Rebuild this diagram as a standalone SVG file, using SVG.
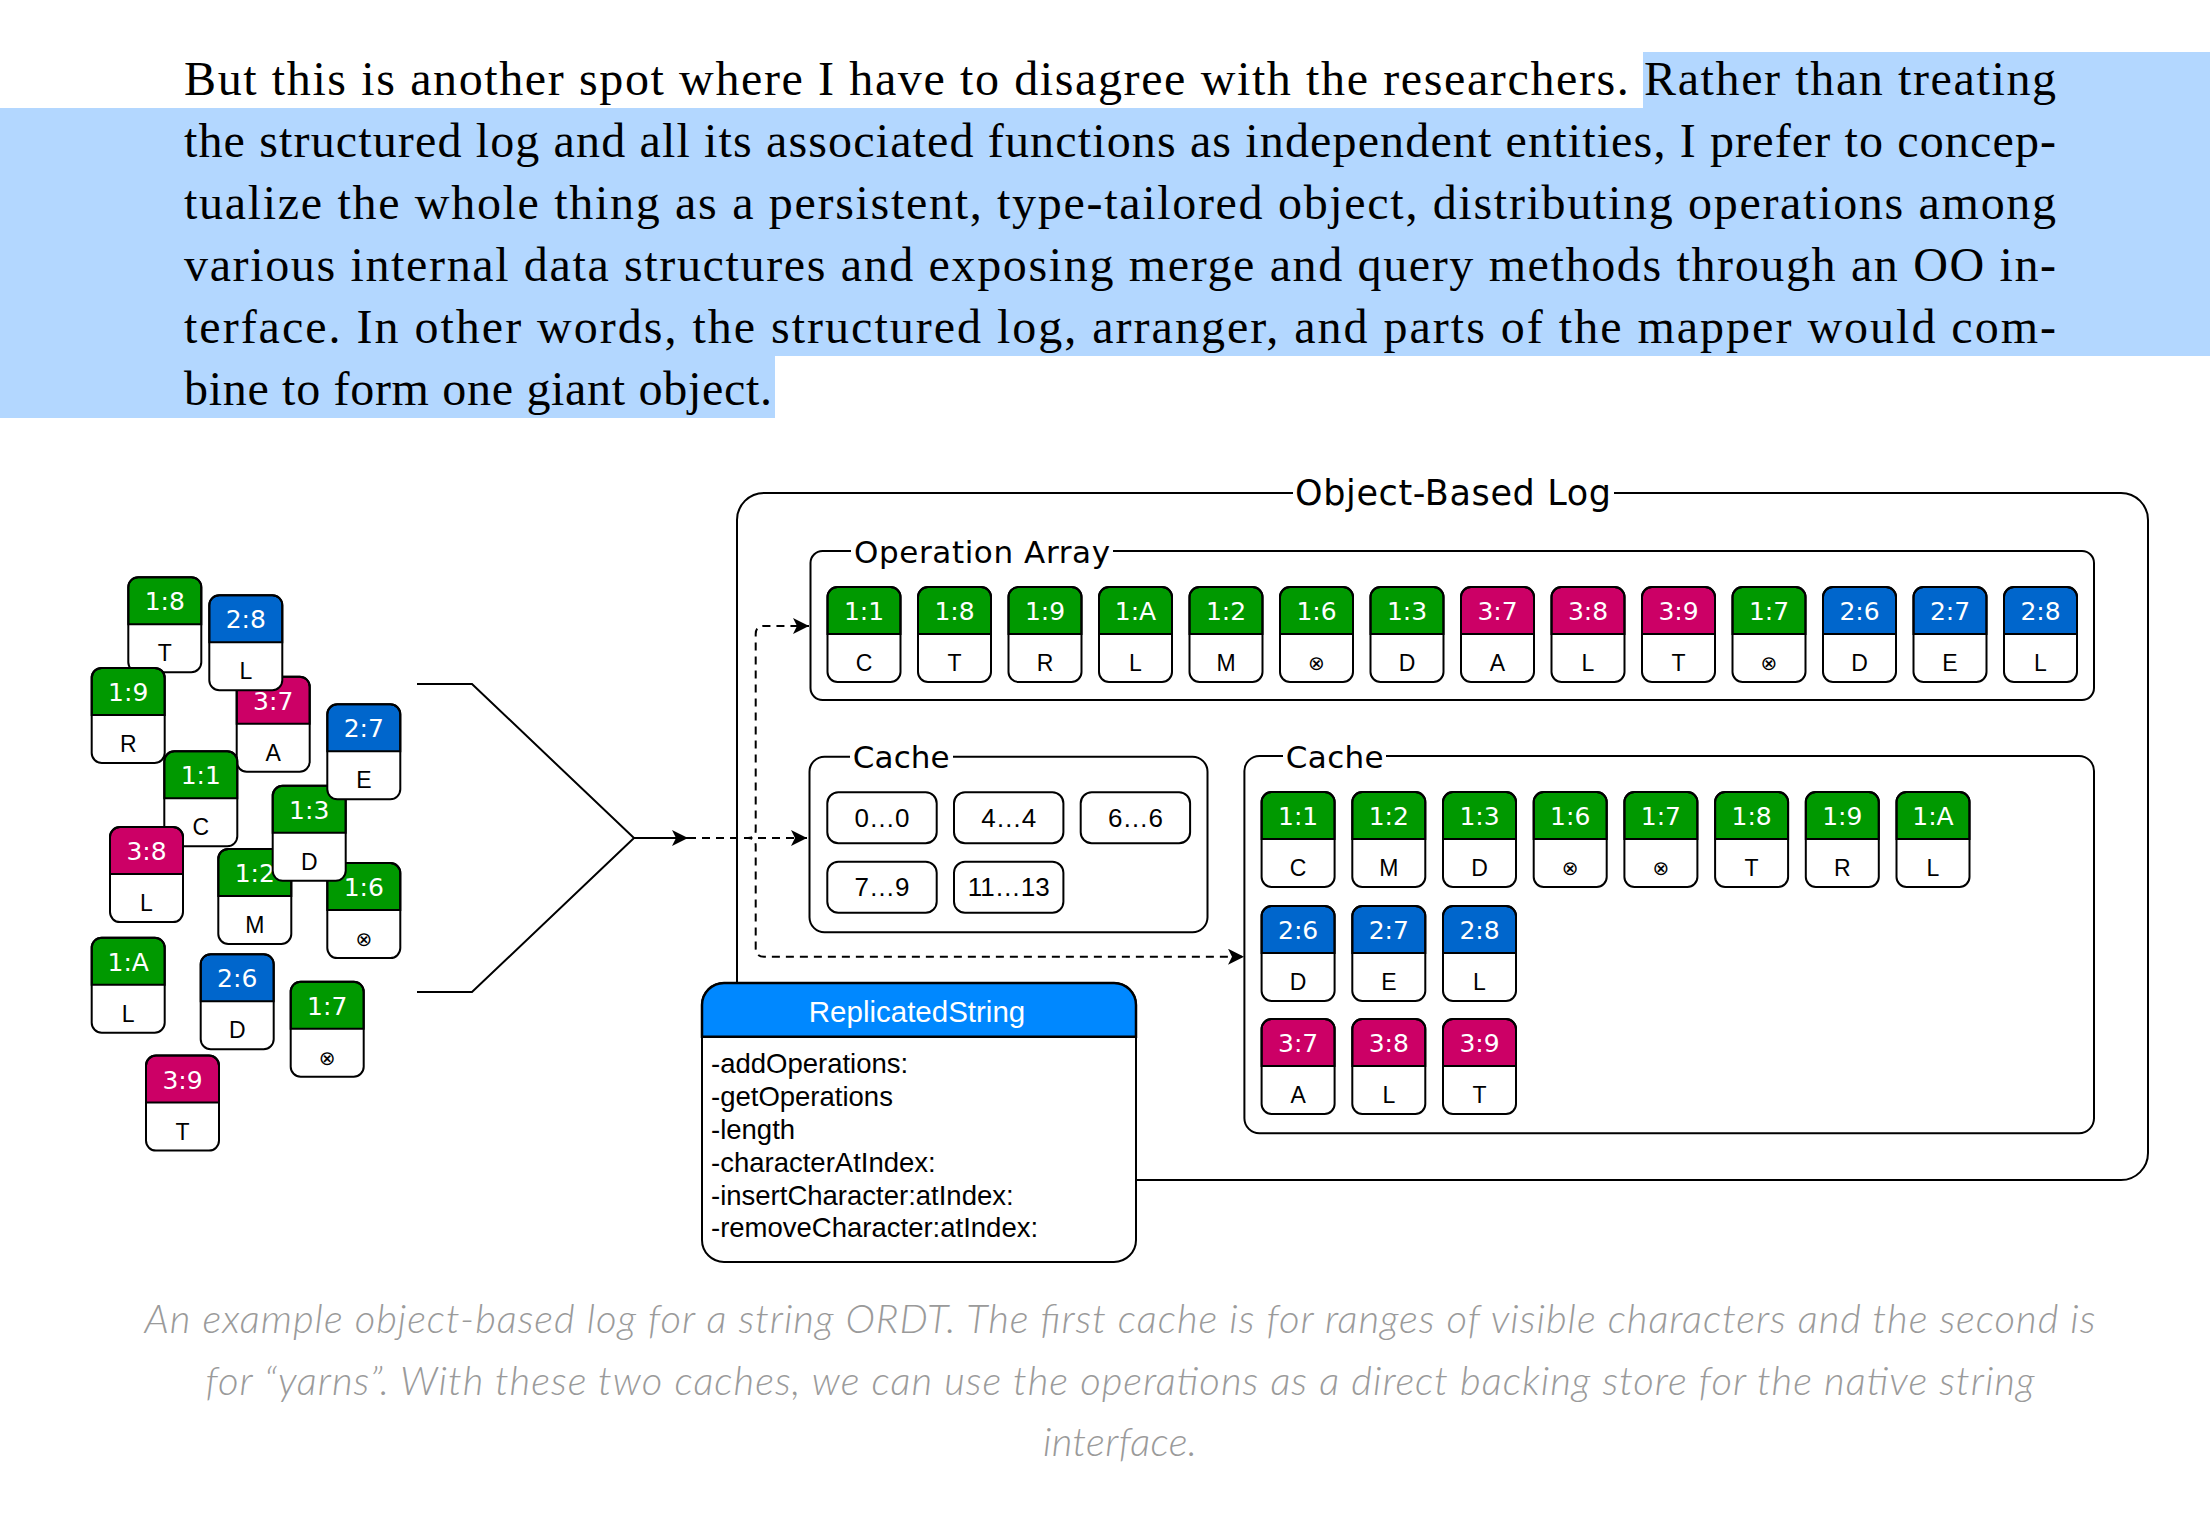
<svg xmlns="http://www.w3.org/2000/svg" xmlns:xlink="http://www.w3.org/1999/xlink" width="2210" height="1524" viewBox="0 0 2210 1524">
<style>
.ln{fill:none;stroke:#000;stroke-width:2}
.dash{fill:none;stroke:#000;stroke-width:2;stroke-dasharray:8 6}
.grp{fill:#fff;stroke:#000;stroke-width:2}
.ol{fill:none;stroke:#000;stroke-width:2}
.wh{fill:#fff}
.g{fill:#009900;stroke:#000;stroke-width:2}
.b{fill:#0066CC;stroke:#000;stroke-width:2}
.m{fill:#CC0066;stroke:#000;stroke-width:2}
.hd{font-family:"DejaVu Sans",sans-serif;font-size:25px;fill:#fff;text-anchor:middle}
.bd{font-family:"Liberation Sans",Arial,sans-serif;font-size:23px;fill:#000;text-anchor:middle}
.x{font-family:"DejaVu Sans",sans-serif;font-size:20px;fill:#000;text-anchor:middle}
.ttl{font-family:"DejaVu Sans",sans-serif;fill:#000}
.rng{font-family:"Liberation Sans",Arial,sans-serif;font-size:26px;fill:#000;text-anchor:middle}
.para{font-family:"Liberation Serif","Times New Roman",serif;font-size:48px;fill:#000}
.cap{font-family:Lato,"Open Sans",sans-serif;font-style:italic;font-weight:300;font-size:40px;fill:#9a9a9a;text-anchor:middle}
.meth{font-family:"Liberation Sans",Arial,sans-serif;font-size:27.5px;fill:#000}
</style>
<defs>
<rect id="tL" width="73" height="95" rx="10"/>
<path id="hL" d="M0,47 V10 A10,10 0 0 1 10,0 H63 A10,10 0 0 1 73,10 V47 Z"/>
<marker id="arr" markerUnits="userSpaceOnUse" markerWidth="16" markerHeight="16" refX="16" refY="8" orient="auto" viewBox="0 0 16 16">
<path d="M0,0 L16,8 L0,16 L4,8 Z" fill="#000" stroke="none"/>
</marker>
</defs>

<!-- paragraph with selection highlight -->
<g id="paragraph">
<rect x="1643" y="52" width="567" height="56" fill="#B3D7FF"/>
<rect x="0" y="108" width="2210" height="248" fill="#B3D7FF"/>
<rect x="0" y="356" width="775" height="62" fill="#B3D7FF"/>
<text class="para" x="184" y="95" textLength="1872">But this is another spot where I have to disagree with the researchers. Rather than treating</text>
<text class="para" x="184" y="157" textLength="1872">the structured log and all its associated functions as independent entities, I prefer to concep-</text>
<text class="para" x="184" y="219" textLength="1872">tualize the whole thing as a persistent, type-tailored object, distributing operations among</text>
<text class="para" x="184" y="281" textLength="1872">various internal data structures and exposing merge and query methods through an OO in-</text>
<text class="para" x="184" y="343" textLength="1872">terface. In other words, the structured log, arranger, and parts of the mapper would com-</text>
<text class="para" x="184" y="405" textLength="588">bine to form one giant object.</text>
</g>

<!-- scattered operations -->
<g id="scattered">
<g id="s-1-8" transform="translate(128.3,577.2)"><use href="#tL" class="wh"/><use href="#hL" class="g"/><use href="#tL" class="ol"/><text class="hd" x="36.5" y="33">1:8</text><text class="bd" x="36.5" y="84">T</text></g>
<g id="s-1-9" transform="translate(91.7,667.9)"><use href="#tL" class="wh"/><use href="#hL" class="g"/><use href="#tL" class="ol"/><text class="hd" x="36.5" y="33">1:9</text><text class="bd" x="36.5" y="84">R</text></g>
<g id="s-3-7" transform="translate(236.7,676.7)"><use href="#tL" class="wh"/><use href="#hL" class="m"/><use href="#tL" class="ol"/><text class="hd" x="36.5" y="33">3:7</text><text class="bd" x="36.5" y="84">A</text></g>
<g id="s-2-8" transform="translate(209.3,595.2)"><use href="#tL" class="wh"/><use href="#hL" class="b"/><use href="#tL" class="ol"/><text class="hd" x="36.5" y="33">2:8</text><text class="bd" x="36.5" y="84">L</text></g>
<g id="s-1-1" transform="translate(164.3,751.3)"><use href="#tL" class="wh"/><use href="#hL" class="g"/><use href="#tL" class="ol"/><text class="hd" x="36.5" y="33">1:1</text><text class="bd" x="36.5" y="84">C</text></g>
<g id="s-3-8" transform="translate(110,827.1)"><use href="#tL" class="wh"/><use href="#hL" class="m"/><use href="#tL" class="ol"/><text class="hd" x="36.5" y="33">3:8</text><text class="bd" x="36.5" y="84">L</text></g>
<g id="s-1-2" transform="translate(218.3,848.9)"><use href="#tL" class="wh"/><use href="#hL" class="g"/><use href="#tL" class="ol"/><text class="hd" x="36.5" y="33">1:2</text><text class="bd" x="36.5" y="84">M</text></g>
<g id="s-1-6" transform="translate(327.3,863.1)"><use href="#tL" class="wh"/><use href="#hL" class="g"/><use href="#tL" class="ol"/><text class="hd" x="36.5" y="33">1:6</text><text class="x" x="36.5" y="83">⊗</text></g>
<g id="s-1-3" transform="translate(272.7,785.8)"><use href="#tL" class="wh"/><use href="#hL" class="g"/><use href="#tL" class="ol"/><text class="hd" x="36.5" y="33">1:3</text><text class="bd" x="36.5" y="84">D</text></g>
<g id="s-2-7" transform="translate(327.3,704.3)"><use href="#tL" class="wh"/><use href="#hL" class="b"/><use href="#tL" class="ol"/><text class="hd" x="36.5" y="33">2:7</text><text class="bd" x="36.5" y="84">E</text></g>
<g id="s-1-A" transform="translate(91.7,937.7)"><use href="#tL" class="wh"/><use href="#hL" class="g"/><use href="#tL" class="ol"/><text class="hd" x="36.5" y="33">1:A</text><text class="bd" x="36.5" y="84">L</text></g>
<g id="s-2-6" transform="translate(200.7,954.2)"><use href="#tL" class="wh"/><use href="#hL" class="b"/><use href="#tL" class="ol"/><text class="hd" x="36.5" y="33">2:6</text><text class="bd" x="36.5" y="84">D</text></g>
<g id="s-1-7" transform="translate(290.7,981.7)"><use href="#tL" class="wh"/><use href="#hL" class="g"/><use href="#tL" class="ol"/><text class="hd" x="36.5" y="33">1:7</text><text class="x" x="36.5" y="83">⊗</text></g>
<g id="s-3-9" transform="translate(146,1055.6)"><use href="#tL" class="wh"/><use href="#hL" class="m"/><use href="#tL" class="ol"/><text class="hd" x="36.5" y="33">3:9</text><text class="bd" x="36.5" y="84">T</text></g>
</g>

<!-- outer object-based log -->
<g id="object-based-log">
<rect x="737" y="493" width="1411" height="687" rx="27" class="grp"/>
<rect x="1293" y="478" width="321" height="30" class="wh"/>
<text class="ttl" x="1295" y="505" font-size="35" textLength="316">Object-Based Log</text>
</g>

<!-- operation array -->
<g id="operation-array">
<rect x="810.5" y="551" width="1283.5" height="149" rx="12" class="grp"/>
<rect x="851" y="538" width="262" height="22" class="wh"/>
<text class="ttl" x="854" y="563" font-size="31" textLength="256">Operation Array</text>
<g id="oa-0" transform="translate(827.5,587)"><use href="#tL" class="wh"/><use href="#hL" class="g"/><use href="#tL" class="ol"/><text class="hd" x="36.5" y="33">1:1</text><text class="bd" x="36.5" y="84">C</text></g>
<g id="oa-1" transform="translate(918,587)"><use href="#tL" class="wh"/><use href="#hL" class="g"/><use href="#tL" class="ol"/><text class="hd" x="36.5" y="33">1:8</text><text class="bd" x="36.5" y="84">T</text></g>
<g id="oa-2" transform="translate(1008.5,587)"><use href="#tL" class="wh"/><use href="#hL" class="g"/><use href="#tL" class="ol"/><text class="hd" x="36.5" y="33">1:9</text><text class="bd" x="36.5" y="84">R</text></g>
<g id="oa-3" transform="translate(1099,587)"><use href="#tL" class="wh"/><use href="#hL" class="g"/><use href="#tL" class="ol"/><text class="hd" x="36.5" y="33">1:A</text><text class="bd" x="36.5" y="84">L</text></g>
<g id="oa-4" transform="translate(1189.5,587)"><use href="#tL" class="wh"/><use href="#hL" class="g"/><use href="#tL" class="ol"/><text class="hd" x="36.5" y="33">1:2</text><text class="bd" x="36.5" y="84">M</text></g>
<g id="oa-5" transform="translate(1280,587)"><use href="#tL" class="wh"/><use href="#hL" class="g"/><use href="#tL" class="ol"/><text class="hd" x="36.5" y="33">1:6</text><text class="x" x="36.5" y="83">⊗</text></g>
<g id="oa-6" transform="translate(1370.5,587)"><use href="#tL" class="wh"/><use href="#hL" class="g"/><use href="#tL" class="ol"/><text class="hd" x="36.5" y="33">1:3</text><text class="bd" x="36.5" y="84">D</text></g>
<g id="oa-7" transform="translate(1461,587)"><use href="#tL" class="wh"/><use href="#hL" class="m"/><use href="#tL" class="ol"/><text class="hd" x="36.5" y="33">3:7</text><text class="bd" x="36.5" y="84">A</text></g>
<g id="oa-8" transform="translate(1551.5,587)"><use href="#tL" class="wh"/><use href="#hL" class="m"/><use href="#tL" class="ol"/><text class="hd" x="36.5" y="33">3:8</text><text class="bd" x="36.5" y="84">L</text></g>
<g id="oa-9" transform="translate(1642,587)"><use href="#tL" class="wh"/><use href="#hL" class="m"/><use href="#tL" class="ol"/><text class="hd" x="36.5" y="33">3:9</text><text class="bd" x="36.5" y="84">T</text></g>
<g id="oa-10" transform="translate(1732.5,587)"><use href="#tL" class="wh"/><use href="#hL" class="g"/><use href="#tL" class="ol"/><text class="hd" x="36.5" y="33">1:7</text><text class="x" x="36.5" y="83">⊗</text></g>
<g id="oa-11" transform="translate(1823,587)"><use href="#tL" class="wh"/><use href="#hL" class="b"/><use href="#tL" class="ol"/><text class="hd" x="36.5" y="33">2:6</text><text class="bd" x="36.5" y="84">D</text></g>
<g id="oa-12" transform="translate(1913.5,587)"><use href="#tL" class="wh"/><use href="#hL" class="b"/><use href="#tL" class="ol"/><text class="hd" x="36.5" y="33">2:7</text><text class="bd" x="36.5" y="84">E</text></g>
<g id="oa-13" transform="translate(2004,587)"><use href="#tL" class="wh"/><use href="#hL" class="b"/><use href="#tL" class="ol"/><text class="hd" x="36.5" y="33">2:8</text><text class="bd" x="36.5" y="84">L</text></g>
</g>

<!-- range cache -->
<g id="range-cache">
<rect x="809.5" y="756.7" width="398" height="175.6" rx="15" class="grp"/>
<rect x="850" y="744" width="103" height="18" class="wh"/>
<text class="ttl" x="852.7" y="768" font-size="31" textLength="97">Cache</text>
<g id="rc-0"><rect x="827.3" y="792.3" width="109.4" height="51" rx="11" class="grp"/><text class="rng" x="882" y="826.5">0…0</text></g>
<g id="rc-1"><rect x="954" y="792.3" width="109.4" height="51" rx="11" class="grp"/><text class="rng" x="1008.7" y="826.5">4…4</text></g>
<g id="rc-2"><rect x="1080.7" y="792.3" width="109.4" height="51" rx="11" class="grp"/><text class="rng" x="1135.4" y="826.5">6…6</text></g>
<g id="rc-3"><rect x="827.3" y="861.7" width="109.4" height="51" rx="11" class="grp"/><text class="rng" x="882" y="895.9">7…9</text></g>
<g id="rc-4"><rect x="954" y="861.7" width="109.4" height="51" rx="11" class="grp"/><text class="rng" x="1008.7" y="895.9">11…13</text></g>
</g>

<!-- yarn cache -->
<g id="yarn-cache">
<rect x="1244.4" y="756" width="849.6" height="377.3" rx="15" class="grp"/>
<rect x="1283" y="744" width="103" height="18" class="wh"/>
<text class="ttl" x="1285.7" y="768" font-size="31" textLength="98">Cache</text>
<g id="yc-1-1" transform="translate(1261.6,792)"><use href="#tL" class="wh"/><use href="#hL" class="g"/><use href="#tL" class="ol"/><text class="hd" x="36.5" y="33">1:1</text><text class="bd" x="36.5" y="84">C</text></g>
<g id="yc-1-2" transform="translate(1352.3,792)"><use href="#tL" class="wh"/><use href="#hL" class="g"/><use href="#tL" class="ol"/><text class="hd" x="36.5" y="33">1:2</text><text class="bd" x="36.5" y="84">M</text></g>
<g id="yc-1-3" transform="translate(1443,792)"><use href="#tL" class="wh"/><use href="#hL" class="g"/><use href="#tL" class="ol"/><text class="hd" x="36.5" y="33">1:3</text><text class="bd" x="36.5" y="84">D</text></g>
<g id="yc-1-6" transform="translate(1533.7,792)"><use href="#tL" class="wh"/><use href="#hL" class="g"/><use href="#tL" class="ol"/><text class="hd" x="36.5" y="33">1:6</text><text class="x" x="36.5" y="83">⊗</text></g>
<g id="yc-1-7" transform="translate(1624.4,792)"><use href="#tL" class="wh"/><use href="#hL" class="g"/><use href="#tL" class="ol"/><text class="hd" x="36.5" y="33">1:7</text><text class="x" x="36.5" y="83">⊗</text></g>
<g id="yc-1-8" transform="translate(1715.1,792)"><use href="#tL" class="wh"/><use href="#hL" class="g"/><use href="#tL" class="ol"/><text class="hd" x="36.5" y="33">1:8</text><text class="bd" x="36.5" y="84">T</text></g>
<g id="yc-1-9" transform="translate(1805.8,792)"><use href="#tL" class="wh"/><use href="#hL" class="g"/><use href="#tL" class="ol"/><text class="hd" x="36.5" y="33">1:9</text><text class="bd" x="36.5" y="84">R</text></g>
<g id="yc-1-A" transform="translate(1896.5,792)"><use href="#tL" class="wh"/><use href="#hL" class="g"/><use href="#tL" class="ol"/><text class="hd" x="36.5" y="33">1:A</text><text class="bd" x="36.5" y="84">L</text></g>
<g id="yc-2-6" transform="translate(1261.6,906)"><use href="#tL" class="wh"/><use href="#hL" class="b"/><use href="#tL" class="ol"/><text class="hd" x="36.5" y="33">2:6</text><text class="bd" x="36.5" y="84">D</text></g>
<g id="yc-2-7" transform="translate(1352.3,906)"><use href="#tL" class="wh"/><use href="#hL" class="b"/><use href="#tL" class="ol"/><text class="hd" x="36.5" y="33">2:7</text><text class="bd" x="36.5" y="84">E</text></g>
<g id="yc-2-8" transform="translate(1443,906)"><use href="#tL" class="wh"/><use href="#hL" class="b"/><use href="#tL" class="ol"/><text class="hd" x="36.5" y="33">2:8</text><text class="bd" x="36.5" y="84">L</text></g>
<g id="yc-3-7" transform="translate(1261.6,1019)"><use href="#tL" class="wh"/><use href="#hL" class="m"/><use href="#tL" class="ol"/><text class="hd" x="36.5" y="33">3:7</text><text class="bd" x="36.5" y="84">A</text></g>
<g id="yc-3-8" transform="translate(1352.3,1019)"><use href="#tL" class="wh"/><use href="#hL" class="m"/><use href="#tL" class="ol"/><text class="hd" x="36.5" y="33">3:8</text><text class="bd" x="36.5" y="84">L</text></g>
<g id="yc-3-9" transform="translate(1443,1019)"><use href="#tL" class="wh"/><use href="#hL" class="m"/><use href="#tL" class="ol"/><text class="hd" x="36.5" y="33">3:9</text><text class="bd" x="36.5" y="84">T</text></g>
</g>

<!-- merge bracket -->
<g id="merge-bracket">
<path class="ln" d="M417,684 H472 L634,838 L472,992 H417"/>
</g>

<!-- connectors -->
<g id="connectors">
<path class="ln" d="M634,838 H688" marker-end="url(#arr)"/>
<path class="dash" d="M688,838 H807" marker-end="url(#arr)"/>
<path class="dash" d="M688,838 H748 Q755.7,838 755.7,830 V634 Q755.7,626 764,626 H809" marker-end="url(#arr)"/>
<path class="dash" d="M688,838 H748 Q755.7,838 755.7,846 V948 Q755.7,956.7 764,956.7 H1244" marker-end="url(#arr)"/>
</g>

<!-- ReplicatedString interface -->
<g id="replicated-string">
<rect x="702" y="983" width="434" height="279" rx="22" class="grp"/>
<path d="M702,1036.7 V1005 A22,22 0 0 1 724,983 H1114 A22,22 0 0 1 1136,1005 V1036.7 Z" fill="#0088FF" stroke="#000" stroke-width="2.5"/>
<text x="917" y="1021.5" font-family="Liberation Sans, Arial, sans-serif" font-size="29.5" fill="#fff" text-anchor="middle">ReplicatedString</text>
<text class="meth" x="711" y="1073">-addOperations:</text>
<text class="meth" x="711" y="1106">-getOperations</text>
<text class="meth" x="711" y="1139">-length</text>
<text class="meth" x="711" y="1172">-characterAtIndex:</text>
<text class="meth" x="711" y="1205">-insertCharacter:atIndex:</text>
<text class="meth" x="711" y="1237">-removeCharacter:atIndex:</text>
</g>

<!-- caption -->
<g id="caption">
<text class="cap" x="1120" y="1333" textLength="1951">An example object-based log for a string ORDT. The first cache is for ranges of visible characters and the second is</text>
<text class="cap" x="1120" y="1395" textLength="1829">for “yarns”. With these two caches, we can use the operations as a direct backing store for the native string</text>
<text class="cap" x="1120" y="1456" textLength="154">interface.</text>
</g>
</svg>
